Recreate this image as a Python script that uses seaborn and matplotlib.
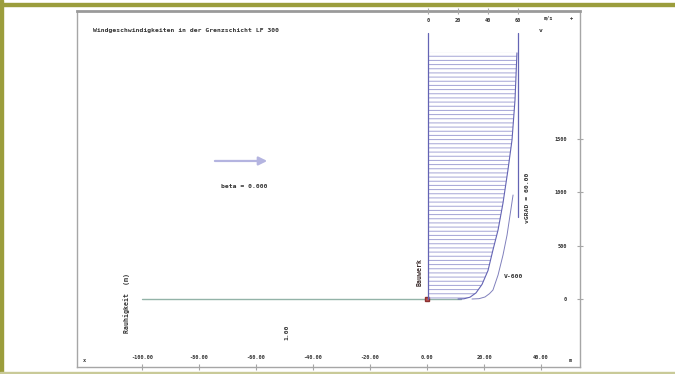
import matplotlib
matplotlib.use("Agg")
import matplotlib.pyplot as plt
import matplotlib.patches as mpatches
import seaborn as sns

# Gelaende / Rauhigkeit (Abstand in m)
ground_x = [-100, 12]
ground_z = [0, 0]

# Windprofil innen (v in m/s, Hoehe z in m)
v_inner = [20, 24, 28, 32, 36, 40, 43.3, 46.7, 50, 53.3, 56, 58, 59.3]
z_inner = [0, 2, 17, 57, 136, 266, 458, 645, 897, 1206, 1486, 1860, 2300]

# Windprofil aussen (duenne Linie)
v_outer = [29.3, 34, 38, 41, 43.3, 46.7, 50, 52.7, 54.7, 56.7]
z_outer = [0, 3, 19, 50, 84, 224, 411, 598, 785, 972]

# Gradientwind und Bezugsachse
v_grad = [60, 60]
z_grad = [766, 2490]
v_axis = [0, 0]
z_axis = [0, 2490]

bottom_ticks = [-100, -80, -60, -40, -20, 0, 20, 40]
top_ticks = [0, 20, 40, 60]
right_ticks = [0, 500, 1000, 1500]

sns.set_style("white")
plt.rcParams["font.family"] = ["DejaVu Sans Mono", "DejaVu Sans"]
plt.rcParams["font.weight"] = "bold"
plt.rcParams["hatch.linewidth"] = 0.7

txt = "#333333"
frame = "#a6a6a6"
blue = "#6464b4"
hatch_c = "#a4a4d6"

fig = plt.figure(figsize=(6.75, 3.74), dpi=100)
fig.patch.set_facecolor("white")
# olive border
fig.patches.append(mpatches.Rectangle((0, 0), 3 / 675, 1, transform=fig.transFigure,
                                      color="#9b9d3c", zorder=0))
fig.patches.append(mpatches.Rectangle((0, 1 - 6 / 374), 1, 2.5 / 374, transform=fig.transFigure,
                                      color="#9b9d3c", zorder=0))
fig.patches.append(mpatches.Rectangle((0, 1 / 374), 1, 1.5 / 374, transform=fig.transFigure,
                                      color="#c9ca98", zorder=0))

ax = fig.add_axes([77 / 675, 7 / 374, 503 / 675, 356 / 374])
ax.set_xlim(-122.81, 53.68)
ax.set_ylim(-635.5, 2691.6)

for s in ax.spines.values():
    s.set_color(frame)
    s.set_linewidth(1.0)
ax.spines["top"].set_linewidth(2.0)
ax.spines["top"].set_color("#9a9a9a")

# bottom axis (m)
ax.set_xticks(bottom_ticks)
ax.set_xticklabels([f"{t:.2f}" for t in bottom_ticks])
ax.tick_params(axis="x", direction="inout", length=5, width=0.8, color=frame,
               pad=-11, labelsize=3.8, labelcolor=txt)
# right axis (height)
ax.yaxis.tick_right()
ax.set_yticks(right_ticks)
ax.set_yticklabels([str(t) for t in right_ticks])
ax.tick_params(axis="y", direction="inout", length=5, width=0.8, color=frame,
               pad=-12, labelsize=3.8, labelcolor=txt)
for lbl in ax.get_yticklabels():
    lbl.set_horizontalalignment("right")

# ground line and building marker
sns.lineplot(x=ground_x, y=ground_z, ax=ax, color="#93b3a8", lw=1.0, sort=False, estimator=None)
ax.plot([0], [0], marker="s", ms=3.5, color="#c0504d", mec="#8a3030", zorder=5)

# wind arrow
ax.annotate("", xy=(-55.1, 1290), xytext=(-75.4, 1290),
            arrowprops=dict(arrowstyle="-|>,head_length=0.5,head_width=0.25",
                            color="#b4b4e0", lw=1.6))

# texts
ax.text(-117.2, 2514, "Windgeschwindigkeiten in der Grenzschicht LF 300",
        fontsize=4.6, color=txt, ha="left", va="center")
ax.text(-64.2, 1047, "beta = 0.000", fontsize=4.6, color=txt, ha="center", va="center")
ax.text(-105.6, -37, "Rauhigkeit  (m)", fontsize=4.8, color=txt, rotation=90,
        ha="center", va="center")
ax.text(-49.1, -308, "1.00", fontsize=4.6, color=txt, rotation=90, ha="center", va="center")
ax.text(-2.5, 252, "Bauwerk", fontsize=4.8, color="#3a2a2a", rotation=90,
        ha="center", va="center")
ax.text(27.0, 206, "V-600", fontsize=4.6, color=txt, ha="left", va="center")
ax.text(35.1, 944, "vGRAD = 60.00", fontsize=4.6, color=txt, rotation=90,
        ha="center", va="center")
ax.text((84 - 77) / 503, (367 - 360) / 356, "x", transform=ax.transAxes,
        fontsize=3.8, color=txt, ha="center", va="center")
ax.text((570 - 77) / 503, (367 - 360) / 356, "m", transform=ax.transAxes,
        fontsize=3.8, color=txt, ha="center", va="center")
ax.text((548 - 77) / 503, (367 - 18) / 356, "m/s", transform=ax.transAxes,
        fontsize=3.8, color=txt, ha="center", va="center")
ax.text((571 - 77) / 503, (367 - 19) / 356, "+", transform=ax.transAxes,
        fontsize=3.8, color=txt, ha="center", va="center")
ax.text((541 - 77) / 503, (367 - 31) / 356, "v", transform=ax.transAxes,
        fontsize=4.6, color=txt, ha="center", va="center")

# top axis (wind speed m/s)
ax2 = ax.twiny()
ax2.set_xlim(-234.0, 101.33)
ax2.set_xticks(top_ticks)
ax2.set_xticklabels([str(t) for t in top_ticks])
ax2.tick_params(axis="x", direction="inout", length=5, width=0.8, color=frame,
                pad=-11, labelsize=3.8, labelcolor=txt)
for s in ax2.spines.values():
    s.set_visible(False)

ax2.fill_betweenx(z_inner, 0, v_inner, facecolor="none", edgecolor=hatch_c,
                  hatch="----", linewidth=0)
sns.lineplot(x=v_inner, y=z_inner, ax=ax2, color=blue, lw=0.8, sort=False, estimator=None)
sns.lineplot(x=v_outer, y=z_outer, ax=ax2, color="#8080bc", lw=0.7, sort=False, estimator=None)
sns.lineplot(x=v_grad, y=z_grad, ax=ax2, color=blue, lw=0.9, sort=False, estimator=None)
sns.lineplot(x=v_axis, y=z_axis, ax=ax2, color=blue, lw=0.9, sort=False, estimator=None)
ax2.set_ylim(-635.5, 2691.6)
ax.set_xlabel("")
ax.set_ylabel("")
ax2.set_xlabel("")
ax2.set_ylabel("")

fig.savefig("out.png", dpi=100)
